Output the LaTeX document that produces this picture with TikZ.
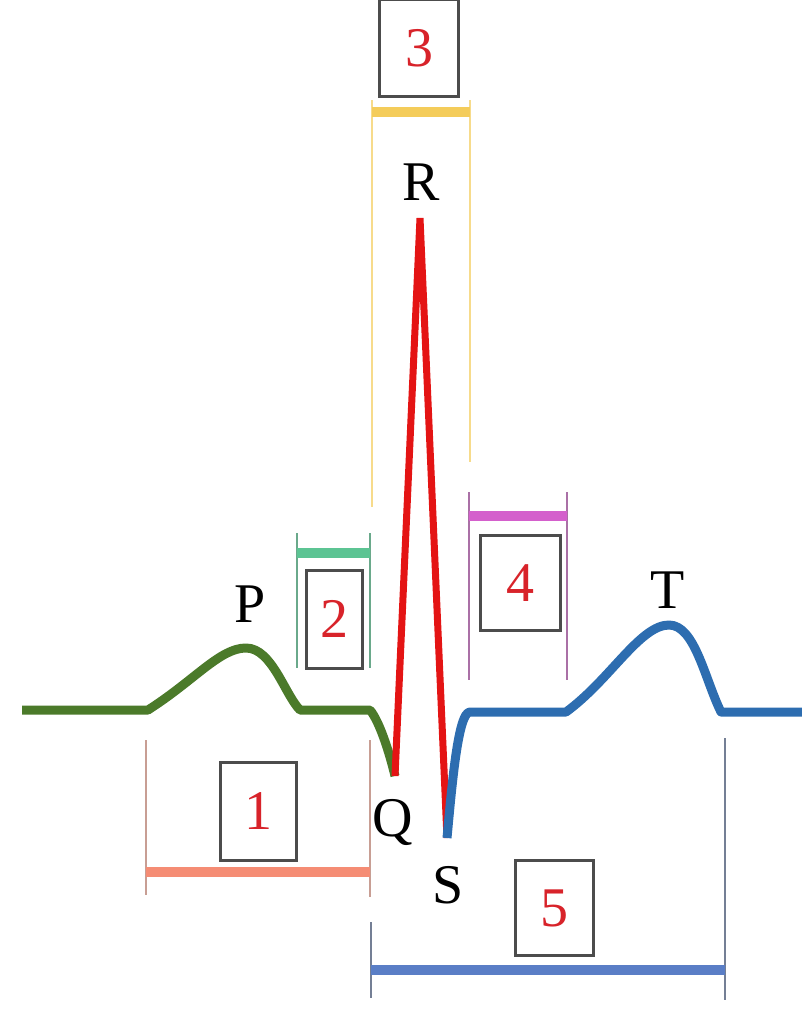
\documentclass[tikz,border=0pt]{standalone}
\usepackage{fontspec}
\setmainfont{Liberation Serif}
\usepackage{tikz}
\usetikzlibrary{positioning}
\definecolor{PWave}{HTML}{4B7A2A}
\definecolor{QRSWave}{HTML}{E41414}
\definecolor{TWave}{HTML}{2D6DB0}
\definecolor{SegOne}{HTML}{F58C74}
\definecolor{SegTwo}{HTML}{5CC493}
\definecolor{SegThree}{HTML}{F4CC5A}
\definecolor{SegFour}{HTML}{D460CC}
\definecolor{SegFive}{HTML}{5A7EC6}
\definecolor{NumRed}{HTML}{D8232A}
\tikzset{
  numbox/.style={draw=black!70, line width=3pt, fill=white, inner sep=0pt,
    text=NumRed, font=\fontsize{56}{62}\selectfont},
  wavelbl/.style={font=\fontsize{56}{62}\selectfont, text=black, anchor=base,
    inner sep=0pt},
  tick/.style={line width=2pt},
  bar/.style={line width=10pt}
}
\begin{document}
\begin{tikzpicture}[x=1pt, y=-1pt]
  \useasboundingbox (0,0) rectangle (802,1018);
  % wave
  \coordinate (base0) at (22,710);
  \coordinate (pon) at (148,710);
  \coordinate (ppk) at (246,648);
  \coordinate (poff) at (300,710);
  \coordinate (qon) at (370,710);
  \coordinate (qpt) at (395,776);
  \coordinate (rpt) at (420,218);
  \coordinate (spt) at (447,838);
  \coordinate (stend) at (470,712);
  \coordinate (ton) at (566,712);
  \coordinate (tpk) at (669,625);
  \coordinate (toff) at (721,712);
  \coordinate (base1) at (802,712);
  \draw[PWave, line width=9pt, line join=round] (base0) -- (pon)
    .. controls (195,680) and (220,648) .. (ppk)
    .. controls (272,648) and (285,695) .. (poff) -- (qon)
    .. controls (380,722) and (390,755) .. (qpt);
  \draw[QRSWave, line width=7pt, line join=miter] (qpt) -- (rpt) -- (spt);
  \draw[TWave, line width=9pt, line join=round] (spt)
    .. controls (452,785) and (458,712) .. (stend) -- (ton)
    .. controls (610,680) and (640,625) .. (tpk)
    .. controls (695,625) and (705,680) .. (toff) -- (base1);
  % labels
  \node[wavelbl] (lp) at (250,622) {P};
  \node[wavelbl] (lr) at (421,200) {R};
  \node[wavelbl] (lq) at (393,836) {Q};
  \node[wavelbl] (ls) at (448,903) {S};
  \node[wavelbl] (lt) at (668,608) {T};
  % 1
  \draw[tick, SegOne!50!gray!80] (146,740) -- (146,895);
  \draw[tick, SegOne!50!gray!80] (370,740) -- (370,897);
  \draw[bar, SegOne] (146,872) -- (370,872);
  \node[numbox, minimum width=76pt, minimum height=98pt] (box1) at (258,811) {1};
  % 2
  \draw[tick, SegTwo!60!gray] (297,533) -- (297,668);
  \draw[tick, SegTwo!60!gray] (370,533) -- (370,668);
  \draw[bar, SegTwo] (297,553) -- (370,553);
  \node[numbox, minimum width=56pt, minimum height=98pt] (box2) at (334,619) {2};
  % 3
  \draw[tick, SegThree!70] (372,100) -- (372,507);
  \draw[tick, SegThree!70] (470,100) -- (470,462);
  \draw[bar, SegThree] (372,112) -- (470,112);
  \node[numbox, minimum width=79pt, minimum height=97pt] (box3) at (419,48) {3};
  % 4
  \draw[tick, SegFour!50!gray] (469,492) -- (469,680);
  \draw[tick, SegFour!50!gray] (567,492) -- (567,680);
  \draw[bar, SegFour] (469,516) -- (567,516);
  \node[numbox, minimum width=80pt, minimum height=95pt] (box4) at (520,583) {4};
  % 5
  \draw[tick, SegFive!30!gray] (371,922) -- (371,998);
  \draw[tick, SegFive!30!gray] (725,738) -- (725,1000);
  \draw[bar, SegFive] (371,970) -- (725,970);
  \node[numbox, minimum width=78pt, minimum height=95pt] (box5) at (554,908) {5};
\end{tikzpicture}
\end{document}
